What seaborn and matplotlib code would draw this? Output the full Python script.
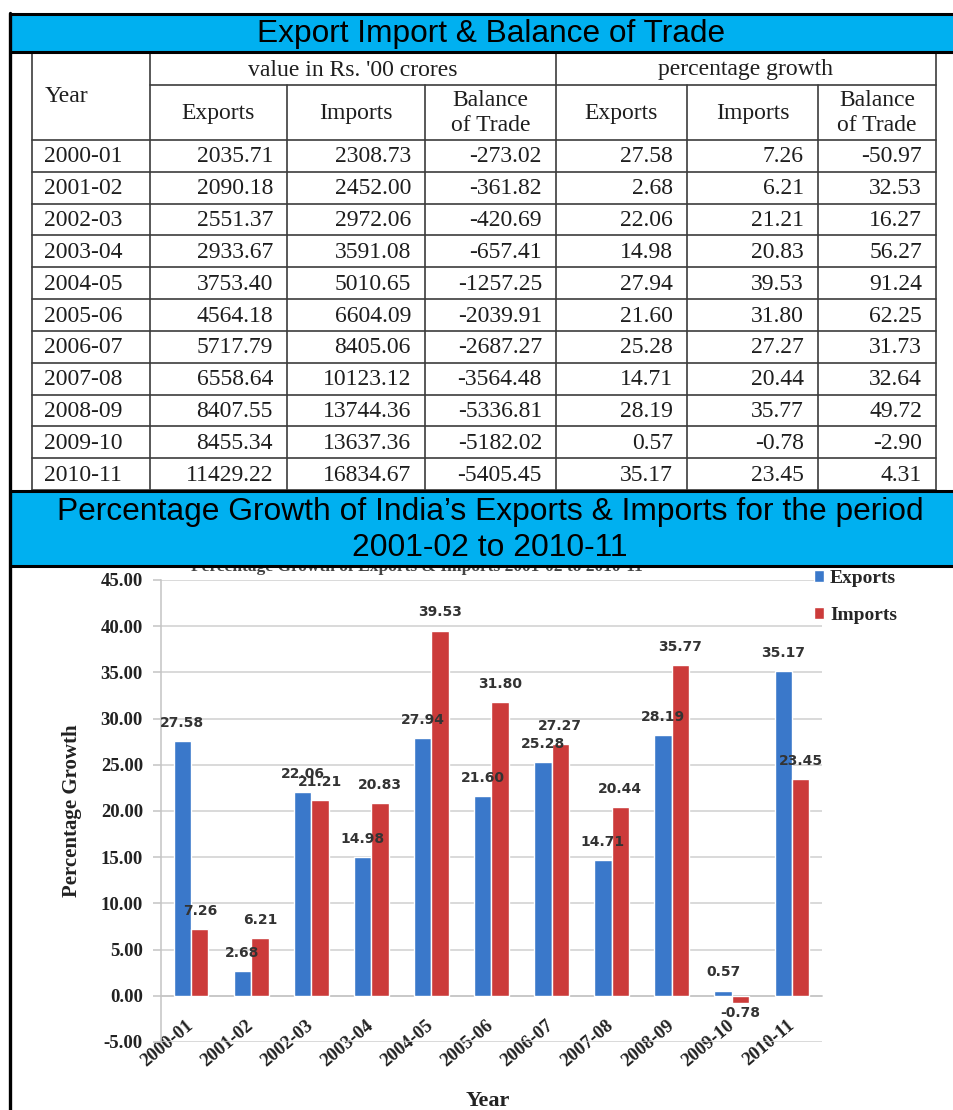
import numpy as np
import pandas as pd
import matplotlib
matplotlib.use("Agg")
import matplotlib.pyplot as plt
from matplotlib.patches import Rectangle
from matplotlib.ticker import FixedLocator, FormatStrFormatter
import seaborn as sns

# ---------------- data ----------------
years = ["2000-01", "2001-02", "2002-03", "2003-04", "2004-05", "2005-06",
         "2006-07", "2007-08", "2008-09", "2009-10", "2010-11"]
exports_value = [2035.71, 2090.18, 2551.37, 2933.67, 3753.40, 4564.18,
                 5717.79, 6558.64, 8407.55, 8455.34, 11429.22]
imports_value = [2308.73, 2452.00, 2972.06, 3591.08, 5010.65, 6604.09,
                 8405.06, 10123.12, 13744.36, 13637.36, 16834.67]
balance_value = [-273.02, -361.82, -420.69, -657.41, -1257.25, -2039.91,
                 -2687.27, -3564.48, -5336.81, -5182.02, -5405.45]
exports_growth = [27.58, 2.68, 22.06, 14.98, 27.94, 21.60, 25.28, 14.71, 28.19, 0.57, 35.17]
imports_growth = [7.26, 6.21, 21.21, 20.83, 39.53, 31.80, 27.27, 20.44, 35.77, -0.78, 23.45]
balance_growth = [-50.97, 32.53, 16.27, 56.27, 91.24, 62.25, 31.73, 32.64, 49.72, -2.90, 4.31]

series_names = ["Exports", "Imports"]
y_ticks = [-5, 0, 5, 10, 15, 20, 25, 30, 35, 40, 45]

table_title = "Export Import & Balance of Trade"
chart_banner = ["Percentage Growth of India\u2019s Exports & Imports for the period",
                "2001-02 to 2010-11"]
chart_title = "Percentage Growth of Exports & Imports 2001-02 to 2010-11"

# ---------------- styling ----------------
sns.set_theme(style="white")
plt.rcParams["font.family"] = ["DejaVu Sans"]

W, H = 954, 1110
fig = plt.figure(figsize=(W / 100, H / 100), dpi=100)
fig.patch.set_facecolor("white")

BLUE_BAR = "#3A78CA"
RED_BAR = "#CC3B3A"
BAND = "#00B0F0"
SERIF = "Liberation Serif"
SANS = "Liberation Sans"


def fx(px):
    return px / W


def fy(py):
    return 1 - py / H


# ---------------- bar chart ----------------
ax_left, ax_right, ax_top, ax_bottom = 161, 822, 580, 1042
ax = fig.add_axes([fx(ax_left), fy(ax_bottom), fx(ax_right - ax_left),
                   (ax_bottom - ax_top) / H])
ax.set_zorder(1)

df = pd.DataFrame({
    "Year": years * 2,
    "Growth": exports_growth + imports_growth,
    "Series": [series_names[0]] * len(years) + [series_names[1]] * len(years),
})
sns.barplot(data=df, x="Year", y="Growth", hue="Series", order=years,
            hue_order=series_names, palette=[BLUE_BAR, RED_BAR], width=0.58,
            gap=0, saturation=1, ax=ax, legend=False, zorder=3)

ax.set_ylim(-5, 45)
ax.set_xlim(-0.5, len(years) - 0.5)
ax.yaxis.set_major_locator(FixedLocator(y_ticks))
ax.yaxis.set_major_formatter(FormatStrFormatter("%.2f"))
ax.grid(axis="y", color="#cfcfcf", linewidth=1.1, zorder=0)
ax.set_axisbelow(True)

for side in ["top", "right"]:
    ax.spines[side].set_visible(False)
ax.spines["left"].set_color("#c4c4c4")
ax.spines["left"].set_linewidth(1.1)
ax.spines["bottom"].set_position(("data", 0))
ax.spines["bottom"].set_color("#c4c4c4")
ax.spines["bottom"].set_linewidth(1.1)

# category separators as minor ticks, labels on centres
ax.set_xticks(np.arange(len(years)))
ax.set_xticks(np.arange(len(years) + 1) - 0.5, minor=True)
ax.tick_params(axis="x", which="major", length=0, pad=20)
ax.tick_params(axis="x", which="minor", length=6, width=1.1, color="#c4c4c4",
               direction="out")
ax.tick_params(axis="y", which="major", length=6, width=1.1, color="#c4c4c4",
               direction="out", pad=7, left=True)
ax.set_xticklabels(years, rotation=40, ha="right", va="center",
                   rotation_mode="anchor", fontfamily=SERIF,
                   fontweight="bold", fontsize=13.5, color="#222222")
for lab in ax.get_yticklabels():
    lab.set_fontfamily(SERIF)
    lab.set_fontweight("bold")
    lab.set_fontsize(13.5)
    lab.set_color("#222222")

ax.set_xlabel("Year", fontfamily=SERIF, fontweight="bold", fontsize=16,
              color="#222222")
ax.set_ylabel("Percentage Growth", fontfamily=SERIF, fontweight="bold",
              fontsize=15, color="#222222")
ax.xaxis.set_label_coords(0.495, -0.105)
ax.yaxis.set_label_coords(-0.12, 0.5)

for cont, vals in zip(ax.containers, [exports_growth, imports_growth]):
    anns = ax.bar_label(cont, labels=[f"{v:.2f}" for v in vals], padding=8,
                        fontsize=10, fontweight="bold", color="#333333",
                        fontfamily="DejaVu Sans", zorder=5)
    for a, v in zip(anns, vals):
        if v < 0:
            a.xyann = (0, -2)

handles = [Rectangle((0, 0), 1, 1, facecolor=c) for c in [BLUE_BAR, RED_BAR]]
ax.legend(handles, series_names, loc="upper left",
          bbox_to_anchor=(fx(800), fy(556)), bbox_transform=fig.transFigure,
          frameon=False, handlelength=0.55, handleheight=0.55, handletextpad=0.3,
          labelspacing=1.05, borderpad=0.2,
          prop={"family": SERIF, "weight": "bold", "size": 14})

# ---------------- overlay: table and banners ----------------
ov = fig.add_axes([0, 0, 1, 1])
ov.set_zorder(2)
ov.patch.set_visible(False)
ov.set_xlim(0, W)
ov.set_ylim(H, 0)
ov.axis("off")

LINE = "#3c3c3c"
TXT = "#1e1e1e"
col_edges = [32, 150, 287, 425, 556, 687, 818, 936]
head_top, head_mid, head_bot = 52, 85, 140
row_h = (490 - head_bot) / len(years)
row_edges = [head_bot + i * row_h for i in range(len(years) + 1)]
tfs = 17

# grid lines
for y in row_edges:
    ov.plot([col_edges[0], col_edges[-1]], [y, y], color=LINE, lw=1.2, zorder=2)
ov.plot([col_edges[1], col_edges[-1]], [head_mid, head_mid], color=LINE, lw=1.2, zorder=2)
for i, x in enumerate(col_edges):
    top = head_mid if i in (2, 3, 5, 6) else head_top
    ov.plot([x, x], [top, row_edges[-1]], color=LINE, lw=1.2, zorder=2)

# headers
ov.text(45, 97, "Year", ha="left", va="center", fontfamily=SERIF, fontsize=tfs, color=TXT)
ov.text((col_edges[1] + col_edges[4]) / 2, 70, "value in Rs. '00 crores", ha="center",
        va="center", fontfamily=SERIF, fontsize=tfs, color=TXT)
ov.text((col_edges[4] + col_edges[7]) / 2, 70, "percentage growth", ha="center",
        va="center", fontfamily=SERIF, fontsize=tfs, color=TXT)
sub_heads = ["Exports", "Imports", "Balance\nof Trade"] * 2
for j, name in enumerate(sub_heads):
    xc = (col_edges[j + 1] + col_edges[j + 2]) / 2
    ov.text(xc, 113, name, ha="center", va="center", fontfamily=SERIF,
            fontsize=tfs, color=TXT, linespacing=1.25)

# body
columns = [exports_value, imports_value, balance_value,
           exports_growth, imports_growth, balance_growth]
for i, yr in enumerate(years):
    yc = (row_edges[i] + row_edges[i + 1]) / 2 + 1
    ov.text(44, yc, yr, ha="left", va="center", fontfamily=SERIF, fontsize=tfs, color=TXT)
    for j, col in enumerate(columns):
        ov.text(col_edges[j + 2] - 14, yc, f"{col[i]:.2f}", ha="right", va="center",
                fontfamily=SERIF, fontsize=tfs, color=TXT)

# chart title sitting under the banner
ov.text(417, 575, chart_title, ha="center", va="bottom", fontfamily=SERIF,
        fontweight="bold", fontsize=12.5, color="#444444", zorder=1)

# banners
for (y0, y1) in [(14, 52), (491, 566)]:
    ov.add_patch(Rectangle((10, y0), W - 10, y1 - y0, facecolor=BAND,
                           edgecolor="none", zorder=3))
    for yb in (y0, y1):
        ov.plot([10, W], [yb, yb], color="black", lw=2.2, zorder=4)

ov.text(491, 34, table_title, ha="center", va="center", fontfamily=SANS,
        fontsize=22.8, color="black", zorder=5)
ov.text(490, 512, chart_banner[0], ha="center", va="center", fontfamily=SANS,
        fontsize=22.9, color="black", zorder=5)
ov.text(490, 548, chart_banner[1], ha="center", va="center", fontfamily=SANS,
        fontsize=22.9, color="black", zorder=5)

# left frame line
ov.plot([10, 10], [13, H], color="black", lw=2.4, zorder=4)

fig.savefig("out.png", dpi=100, facecolor="white")
